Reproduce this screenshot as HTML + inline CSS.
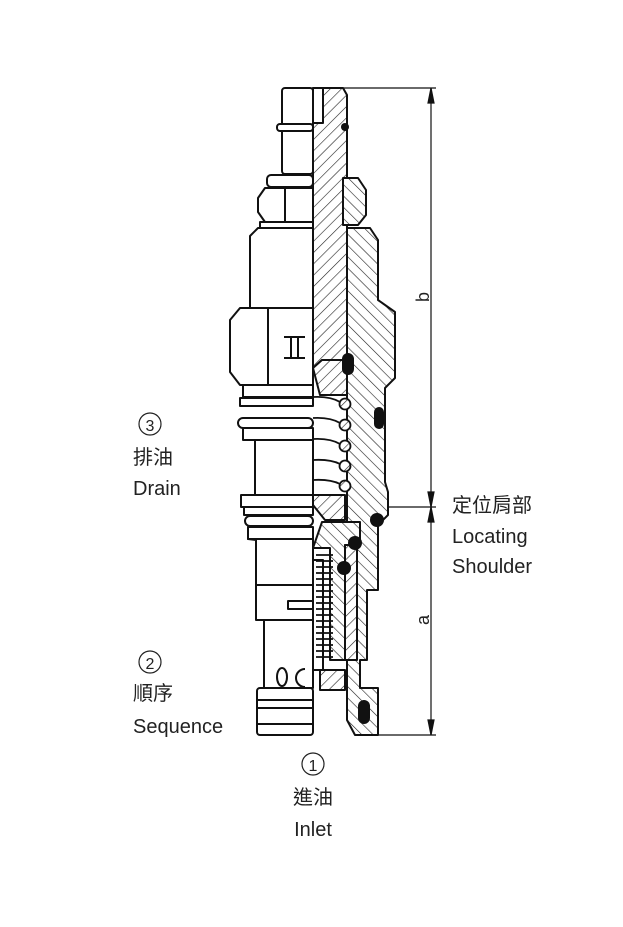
<!DOCTYPE html><html><head><meta charset="utf-8"><style>
html,body{margin:0;padding:0;background:#fff}
svg{display:block}
text{font-family:"Liberation Sans","Noto Sans CJK TC",sans-serif;fill:#222}
</style></head><body>
<svg width="623" height="927" viewBox="0 0 623 927" xmlns="http://www.w3.org/2000/svg">
<defs><pattern id="h" width="8" height="8" patternUnits="userSpaceOnUse" patternTransform="rotate(45)"><rect width="8" height="8" fill="#fff"/><line x1="0" y1="0" x2="0" y2="8" stroke="#222" stroke-width="1.2"/></pattern>
<pattern id="h2" width="8" height="8" patternUnits="userSpaceOnUse" patternTransform="rotate(-45)"><rect width="8" height="8" fill="#fff"/><line x1="0" y1="0" x2="0" y2="8" stroke="#222" stroke-width="1.2"/></pattern></defs>
<g fill="#fff" stroke="#111" stroke-width="2" stroke-linejoin="round">
<rect x="282" y="88" width="31" height="86" rx="3"/>
<rect x="277" y="124" width="36" height="7" rx="3"/>
<rect x="267" y="175" width="46" height="12" rx="4"/>
<path d="M265 188 H313 V222 H265 L258 212 V198 Z"/>
<line x1="285" y1="188" x2="285" y2="222"/>
<rect x="260" y="222" width="53" height="6"/>
<path d="M258 228 H313 V308 H250 V236 Z"/>
<path d="M240 308 H313 V385 H240 L230 372 V320 Z"/>
<line x1="268" y1="308" x2="268" y2="385"/>
<path d="M284 337 H305 M291 337 V358 M298 337 V358 M284 358 H305" fill="none"/>
<rect x="243" y="385" width="70" height="12"/>
<rect x="240" y="398" width="73" height="8"/>
<rect x="238" y="418" width="75" height="10" rx="5"/>
<rect x="243" y="428" width="70" height="12"/>
<rect x="255" y="440" width="58" height="55"/>
<rect x="241" y="495" width="72" height="12"/>
<rect x="244" y="507" width="69" height="8"/>
<rect x="245" y="516" width="68" height="10" rx="5"/>
<rect x="248" y="527" width="65" height="12"/>
<path d="M248 539 H313 V585 H256 V540 Z"/>
<rect x="256" y="585" width="57" height="35"/>
<rect x="288" y="601" width="25" height="8"/>
<rect x="264" y="620" width="49" height="68"/>
<ellipse cx="282" cy="677" rx="5" ry="9"/>
<path d="M305 669 A9 9 0 0 0 305 687" fill="none"/>
<rect x="257" y="688" width="56" height="47" rx="3"/>
<line x1="257" y1="700" x2="313" y2="700"/><line x1="257" y1="708" x2="313" y2="708"/><line x1="257" y1="724" x2="313" y2="724"/>
<path d="M313 88 H343 L347 95 V360 H322 L313 368 Z" fill="url(#h)"/>
<rect x="313" y="88" width="10" height="35"/>
<path d="M343 178 H358 L366 190 V215 L358 225 H343 Z" fill="url(#h2)"/>
<path d="M347 228 H370 L378 240 V300 L395 312 V378 L385 388 V482 L388 492 V515 L378 525 V590 H367 V660 H360 V688 H378 V735 H355 L347 720 V360 Z" fill="url(#h2)"/>
<path d="M313 368 L322 360 H347 V395 H320 Z" fill="url(#h)"/>
<path d="M313 495 H345 V520 H325 L313 505 Z" fill="url(#h)"/>
<path d="M322 522 H360 V545 H345 V660 H330 V548 H313 Z" fill="url(#h2)"/>
<path d="M313 560 H323 V670 H313 Z" fill="#fff"/>
<path d="M345 545 H357 V660 H345 Z" fill="url(#h)"/>
<path d="M320 670 H345 V690 H320 Z" fill="url(#h)"/>
</g>
<g fill="url(#h)" stroke="#111" stroke-width="1.8">
<circle cx="345" cy="404" r="5.5"/><circle cx="345" cy="425" r="5.5"/><circle cx="345" cy="446" r="5.5"/><circle cx="345" cy="466" r="5.5"/><circle cx="345" cy="486" r="5.5"/>
</g>
<g fill="none" stroke="#111" stroke-width="1.8">
<path d="M313 397 Q330 396 340 402 M313 418 Q330 417 340 423 M313 439 Q330 438 340 444 M313 460 Q330 459 340 464 M313 480 Q330 479 340 484"/>
<path d="M316 555 H333 M316 561 H333 M316 567 H333 M316 573 H333 M316 579 H333 M316 585 H333 M316 591 H333 M316 597 H333 M316 603 H333 M316 609 H333 M316 615 H333 M316 621 H333 M316 627 H333 M316 633 H333 M316 639 H333 M316 645 H333 M316 651 H333 M316 657 H333"/>
</g>
<g fill="#111"><circle cx="345" cy="127" r="4"/><rect x="342" y="353" width="12" height="22" rx="6"/><rect x="374" y="407" width="10" height="22" rx="5"/><circle cx="377" cy="520" r="7"/><circle cx="355" cy="543" r="7"/><circle cx="344" cy="568" r="7"/><rect x="358" y="700" width="12" height="24" rx="6"/></g>
<g stroke="#111" stroke-width="1.2" fill="#111">
<line x1="343" y1="88" x2="436" y2="88"/><line x1="431" y1="88" x2="431" y2="735"/>
<line x1="388" y1="507" x2="436" y2="507"/><line x1="378" y1="735" x2="436" y2="735"/>
<path d="M428 103 L431 88 L434 103 Z"/><path d="M428 492 L431 507 L434 492 Z"/><path d="M428 522 L431 507 L434 522 Z"/><path d="M428 720 L431 735 L434 720 Z"/>
</g>
<text x="0" y="0" font-size="18" transform="translate(429,297) rotate(-90)" text-anchor="middle">b</text>
<text x="0" y="0" font-size="18" transform="translate(429,620) rotate(-90)" text-anchor="middle">a</text>
<g font-size="20">
<circle cx="150" cy="424" r="11" fill="none" stroke="#222" stroke-width="1.2"/><text x="150" y="431" text-anchor="middle" font-size="16">3</text>
<text x="133" y="464">排油</text><text x="133" y="495">Drain</text>
<circle cx="150" cy="662" r="11" fill="none" stroke="#222" stroke-width="1.2"/><text x="150" y="669" text-anchor="middle" font-size="16">2</text>
<text x="133" y="700">順序</text><text x="133" y="733">Sequence</text>
<circle cx="313" cy="764" r="11" fill="none" stroke="#222" stroke-width="1.2"/><text x="313" y="771" text-anchor="middle" font-size="16">1</text>
<text x="313" y="804" text-anchor="middle">進油</text><text x="313" y="836" text-anchor="middle">Inlet</text>
<text x="452" y="512">定位肩部</text><text x="452" y="543">Locating</text><text x="452" y="573">Shoulder</text>
</g>
</svg>
</body></html>
